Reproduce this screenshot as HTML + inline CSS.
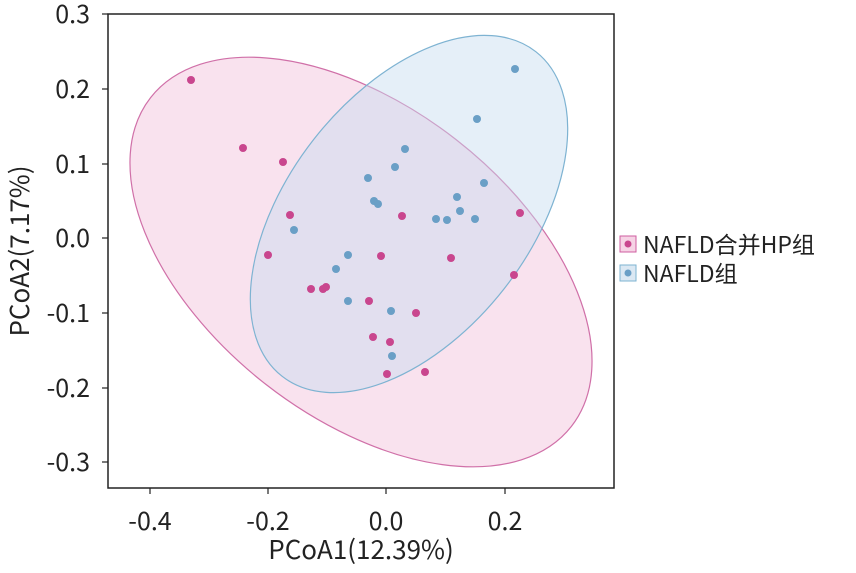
<!DOCTYPE html>
<html><head><meta charset="utf-8"><style>
body{margin:0;background:#fff;}
svg text{font-family:"Noto Sans CJK SC","Liberation Sans",sans-serif;fill:#222;}
</style></head><body>
<svg width="856" height="568" viewBox="0 0 856 568" xmlns="http://www.w3.org/2000/svg">
<rect width="856" height="568" fill="#fff"/>
<ellipse cx="361" cy="262" rx="267" ry="155" transform="rotate(38 361 262)" fill="#f4c6de" fill-opacity="0.5" stroke="#d070a8" stroke-width="1.2"/>
<ellipse cx="409" cy="214" rx="206" ry="121" transform="rotate(-52 409 214)" fill="#c6dcef" fill-opacity="0.45" stroke="#7eb3d2" stroke-width="1.2"/>
<g fill="#c9468e">
<circle cx="191" cy="80" r="4"/><circle cx="243" cy="148" r="4"/><circle cx="283" cy="162" r="4"/><circle cx="290" cy="215" r="4"/><circle cx="268" cy="255" r="4"/><circle cx="311" cy="289" r="4"/><circle cx="323" cy="289" r="4"/><circle cx="326" cy="287" r="4"/><circle cx="381" cy="256" r="4"/><circle cx="402" cy="216" r="4"/><circle cx="451" cy="258" r="4"/><circle cx="520" cy="213" r="4"/><circle cx="514" cy="275" r="4"/><circle cx="369" cy="301" r="4"/><circle cx="416" cy="313" r="4"/><circle cx="373" cy="337" r="4"/><circle cx="390" cy="342" r="4"/><circle cx="387" cy="374" r="4"/><circle cx="425" cy="372" r="4"/>
</g>
<g fill="#6a9fc6">
<circle cx="515" cy="69" r="4"/><circle cx="477" cy="119" r="4"/><circle cx="405" cy="149" r="4"/><circle cx="395" cy="167" r="4"/><circle cx="368" cy="178" r="4"/><circle cx="374" cy="201" r="4"/><circle cx="378" cy="204" r="4"/><circle cx="294" cy="230" r="4"/><circle cx="348" cy="255" r="4"/><circle cx="336" cy="269" r="4"/><circle cx="348" cy="301" r="4"/><circle cx="391" cy="311" r="4"/><circle cx="392" cy="356" r="4"/><circle cx="436" cy="219" r="4"/><circle cx="447" cy="220" r="4"/><circle cx="457" cy="197" r="4"/><circle cx="460" cy="211" r="4"/><circle cx="475" cy="219" r="4"/><circle cx="484" cy="183" r="4"/>
</g>
<rect x="108" y="14" width="506" height="474" fill="none" stroke="#222" stroke-width="1.5"/>
<g stroke="#222" stroke-width="1.2">
<line x1="150" y1="488" x2="150" y2="494"/><line x1="268" y1="488" x2="268" y2="494"/><line x1="386" y1="488" x2="386" y2="494"/><line x1="505" y1="488" x2="505" y2="494"/>
<line x1="102" y1="14" x2="108" y2="14"/><line x1="102" y1="89" x2="108" y2="89"/><line x1="102" y1="164" x2="108" y2="164"/><line x1="102" y1="238" x2="108" y2="238"/><line x1="102" y1="313" x2="108" y2="313"/><line x1="102" y1="388" x2="108" y2="388"/><line x1="102" y1="462" x2="108" y2="462"/>
</g>
<g font-size="25" text-anchor="middle">
<text x="150" y="530">-0.4</text><text x="268" y="530">-0.2</text><text x="386" y="530">0.0</text><text x="505" y="530">0.2</text>
</g>
<g font-size="25" text-anchor="end">
<text x="90" y="23">0.3</text><text x="90" y="98">0.2</text><text x="90" y="173">0.1</text><text x="90" y="247">0.0</text><text x="90" y="322">-0.1</text><text x="90" y="397">-0.2</text><text x="90" y="471">-0.3</text>
</g>
<text x="361" y="559" font-size="26" text-anchor="middle">PCoA1(12.39%)</text>
<text transform="translate(29 251) rotate(-90)" font-size="26" text-anchor="middle">PCoA2(7.17%)</text>
<rect x="620" y="236" width="16" height="16" fill="#f6d3e5" stroke="#cf5ea0"/>
<circle cx="628" cy="244" r="3.5" fill="#c9468e"/>
<rect x="620" y="265" width="16" height="16" fill="#dbe8f3" stroke="#7eb3d2"/>
<circle cx="628" cy="273" r="3.5" fill="#6a9fc6"/>
<text x="643" y="253" font-size="23">NAFLD合并HP组</text>
<text x="643" y="282" font-size="23">NAFLD组</text>
</svg>
</body></html>
